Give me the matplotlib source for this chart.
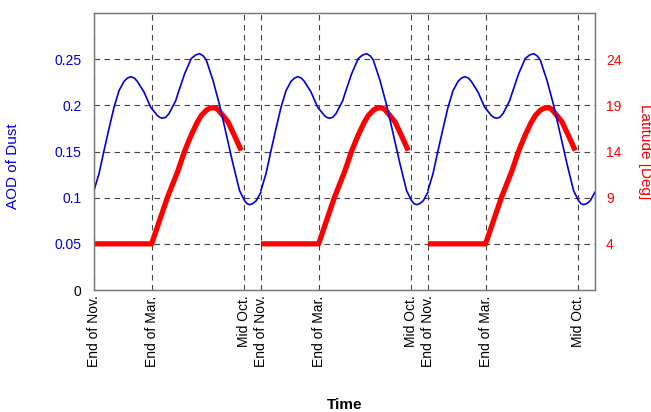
import matplotlib
matplotlib.use('Agg')
import matplotlib.pyplot as plt

plt.rcParams['font.family'] = ['Liberation Sans', 'DejaVu Sans']
plt.rcParams['font.size'] = 10

# time axis in months from the first "End of Nov."
tick_pos = [0, 4.17, 10.77, 12, 16.17, 22.77, 24, 28.17, 34.77]
tick_labels = ['End of Nov.', 'End of Mar.', 'Mid Oct.'] * 3
cycle_starts = [0, 12, 24]

# dust AOD over one year (the chart repeats it for three years)
aod_month = [0, 0.36, 0.72, 1.08, 1.44, 1.80, 2.16, 2.40, 2.64, 2.90, 3.11,
             3.59, 4.07, 4.55, 4.72, 4.91, 5.15, 5.39, 5.87, 6.03, 6.52,
             6.99, 7.30, 7.59, 7.85, 8.07, 8.55, 9.03, 9.50, 9.98, 10.46,
             10.82, 11.00, 11.18, 11.40, 11.66, 12.0]
aod_value = [0.108, 0.126, 0.151, 0.175, 0.198, 0.216, 0.226, 0.2295, 0.231,
             0.2295, 0.226, 0.2145, 0.198, 0.189, 0.187, 0.186, 0.187, 0.191,
             0.205, 0.2127, 0.2345, 0.2507, 0.2545, 0.256, 0.2535, 0.249,
             0.227, 0.200, 0.169, 0.137, 0.1076, 0.0967, 0.0935, 0.0924,
             0.0935, 0.0967, 0.106]

# latitude over one year
lat_month = [0, 4.14, 5.27, 6.03, 6.50, 6.99, 7.40, 7.71, 8.10, 8.32, 8.55,
             8.75, 8.90, 9.15, 9.63, 10.10, 10.58]
lat_value = [4, 4, 9, 11.9, 14, 15.8, 17.1, 17.9, 18.5, 18.68, 18.75, 18.7,
             18.55, 18.1, 17.2, 15.7, 14.1]

aod_ticks = [0, 0.05, 0.1, 0.15, 0.2, 0.25]
aod_tick_labels = ['0', '0.05', '0.1', '0.15', '0.2', '0.25']
lat_ticks = [4, 9, 14, 19, 24]

fig = plt.figure(figsize=(6.51, 4.12), dpi=100)
ax = fig.add_axes([94 / 651, 1 - 290 / 412, 501 / 651, 277 / 412])
ax2 = ax.twinx()
ax.set_zorder(ax2.get_zorder() + 1)
ax.patch.set_visible(False)

for start in cycle_starts:
    ax2.plot([m + start for m in lat_month], lat_value, color='#ff0000',
             lw=3.8, solid_capstyle='butt', solid_joinstyle='round')
    ax.plot([m + start for m in aod_month], aod_value, color='#0000dd',
            lw=1.2, solid_joinstyle='round')

ax.set_xlim(0, 36)
ax.set_ylim(0, 0.3)
ax2.set_ylim(-1, 29)

ax.set_xticks(tick_pos)
ax.set_xticklabels(tick_labels, rotation=90)
ax.set_yticks(aod_ticks)
ax.set_yticklabels(aod_tick_labels)
for lbl in ax.get_yticklabels()[1:]:
    lbl.set_color('#0000dd')
ax2.set_yticks(lat_ticks)
ax2.tick_params(axis='y', colors='#ff0000', length=0, pad=8)
ax.tick_params(axis='both', length=0)
ax.tick_params(axis='y', pad=9)
ax.tick_params(axis='x', pad=4)

# grid lives on the back axes so it stays under both curves
ax2.xaxis.set_visible(True)
ax2.tick_params(axis='x', length=0, labelbottom=False, labeltop=False)
ax2.grid(True, axis='both', color='#444444', lw=0.8, ls=(0, (5, 4)))

for a in (ax, ax2):
    for s in a.spines.values():
        s.set_color('#777777')
        s.set_linewidth(0.9)

ax.set_ylabel('AOD of Dust', color='#0000dd', fontsize=11)
ax.yaxis.set_label_coords(-0.148, 0.447)
ax2.set_ylabel('Latitude [Deg]', color='#ff0000', rotation=270, fontsize=11,
               va='center')
ax2.yaxis.set_label_coords(1.10, 0.5)
ax.set_xlabel('Time', fontweight='bold', fontsize=11)
ax.xaxis.set_label_coords(0.5, -0.39)

fig.savefig('out.png', dpi=100)
